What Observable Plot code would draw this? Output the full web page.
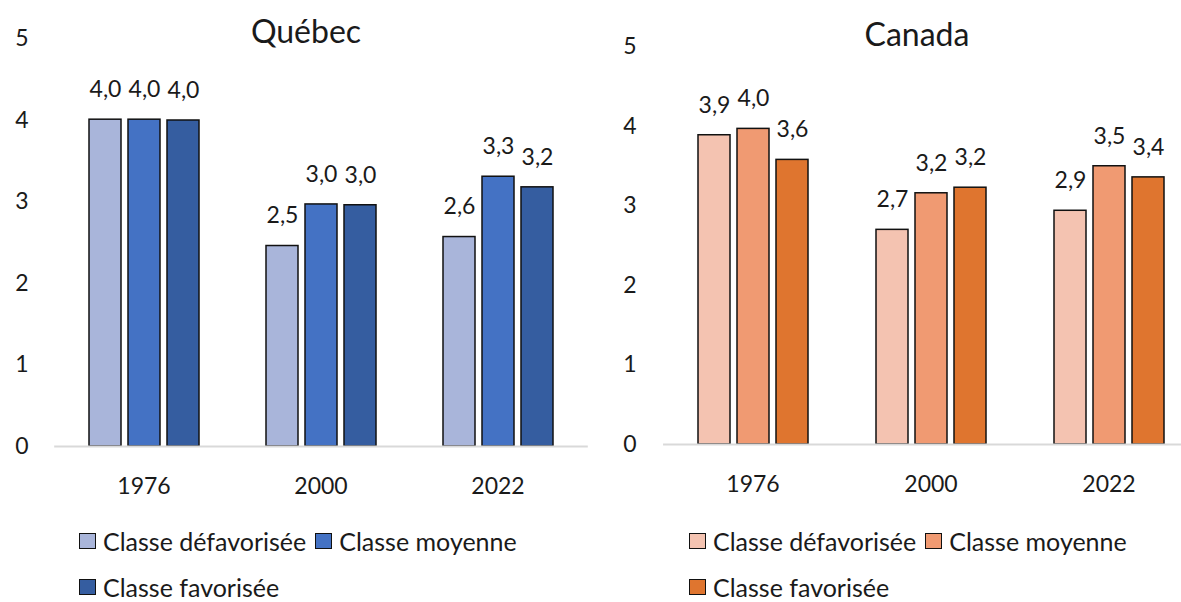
<!DOCTYPE html>
<html>
<head>
<meta charset="utf-8">
<script src="https://cdn.jsdelivr.net/npm/d3@7"></script>
<script src="https://cdn.jsdelivr.net/npm/@observablehq/plot@0.6"></script>
<style>
  html, body { margin: 0; padding: 0; background: #fff; }
  #root { position: relative; width: 1181px; height: 602px; overflow: hidden; background: #fff;
          font-family: "Source Sans Pro", Lato, "Noto Sans", sans-serif; color: #1a1a1a; }
  .panel { position: absolute; top: 0; }
  .panel svg { max-width: none !important; }
  .title { position: absolute; font-size: 32px; transform: translate(-50%, -50%); white-space: nowrap; }
  .legend { position: absolute; display: flex; flex-wrap: wrap; column-gap: 9px; row-gap: 24px; font-size: 25px; line-height: 22px; }
  .item { display: flex; align-items: center; white-space: nowrap; }
  .sw { box-sizing: border-box; width: 17px; height: 16px; border: 1.5px solid #111; margin-right: 7px; }
</style>
</head>
<body>
<div id="root"></div>
<script>
const years = ["1976", "2000", "2022"];
const classes = ["Classe défavorisée", "Classe moyenne", "Classe favorisée"];
const quebecDefav = [4.01, 2.46, 2.57];
const quebecMoy = [4.01, 2.97, 3.31];
const quebecFav = [4.0, 2.96, 3.18];
const canadaDefav = [3.89, 2.70, 2.94];
const canadaMoy = [3.97, 3.16, 3.50];
const canadaFav = [3.58, 3.23, 3.36];
const quebecColors = ["#A9B5DA", "#4472C4", "#355DA0"];
const canadaColors = ["#F4C3B1", "#F09A72", "#DF752F"];
const yTicks = [0, 1, 2, 3, 4, 5];

function rows(series) {
  const out = [];
  years.forEach((yr, i) => classes.forEach((c, j) => out.push({year: yr, cls: c, value: series[j][i]})));
  return out;
}
const fmt = v => v.toFixed(1).replace(".", ",");

function panel(data, colors, o) {
  const outer = o.step * 0.1875;
  return Plot.plot({
    width: o.width, height: 500,
    marginLeft: o.ml, marginRight: o.mr, marginTop: o.mt, marginBottom: o.mb,
    style: {fontFamily: '"Source Sans Pro", Lato, "Noto Sans", sans-serif', fontSize: "23px", color: "#1a1a1a", background: "transparent", overflow: "visible", maxWidth: "none"},
    fx: {domain: years, paddingInner: 0.375, paddingOuter: 0.1875, label: null, tickSize: 0, tickPadding: 31},
    x: {domain: classes, paddingInner: 0.18, paddingOuter: 0, axis: null},
    y: {domain: [0, 5], ticks: yTicks, tickSize: 0, tickPadding: o.yPad, label: null, tickFormat: d => String(d)},
    color: {domain: classes, range: colors},
    marks: [
      Plot.barY(data, {fx: "year", x: "cls", y: "value", fill: "cls", stroke: "#111", strokeWidth: 1.5}),
      Plot.frame({facet: "super", anchor: "bottom", stroke: "#d9d9d9", strokeWidth: 2, insetLeft: -outer, insetRight: -outer}),
      Plot.text(data, {fx: "year", x: "cls", y: "value", text: d => fmt(d.value), dy: -30, fontSize: 23, fill: "#1a1a1a"})
    ]
  });
}

const root = document.getElementById("root");

function addPanel(left, title, titleX, titleY, data, colors, opts, legendX, legendTop, legendW) {
  const p = document.createElement("div");
  p.className = "panel";
  p.style.left = left + "px";
  p.style.width = opts.width + "px";
  p.appendChild(panel(data, colors, opts));
  root.appendChild(p);
  const t = document.createElement("div");
  t.className = "title";
  t.textContent = title;
  t.style.left = titleX + "px";
  t.style.top = titleY + "px";
  root.appendChild(t);
  const lg = document.createElement("div");
  lg.className = "legend";
  lg.style.left = legendX + "px";
  lg.style.top = legendTop + "px";
  lg.style.width = legendW + "px";
  classes.forEach((c, i) => {
    const it = document.createElement("div");
    it.className = "item";
    const sw = document.createElement("span");
    sw.className = "sw";
    sw.style.background = colors[i];
    it.appendChild(sw);
    it.appendChild(document.createTextNode(c));
    lg.appendChild(it);
  });
  root.appendChild(lg);
}

addPanel(0, "Québec", 306, 30, rows([quebecDefav, quebecMoy, quebecFav]), quebecColors,
  {width: 590, ml: 54, mr: 3, mt: 38.5, mb: 54, step: 177.7, yPad: 60}, 79, 530, 470);
addPanel(600, "Canada", 917, 33, rows([canadaDefav, canadaMoy, canadaFav]), canadaColors,
  {width: 600, ml: 63, mr: 2, mt: 46.5, mb: 56, step: 178.3, yPad: 61}, 689, 530, 470);
</script>
</body>
</html>
